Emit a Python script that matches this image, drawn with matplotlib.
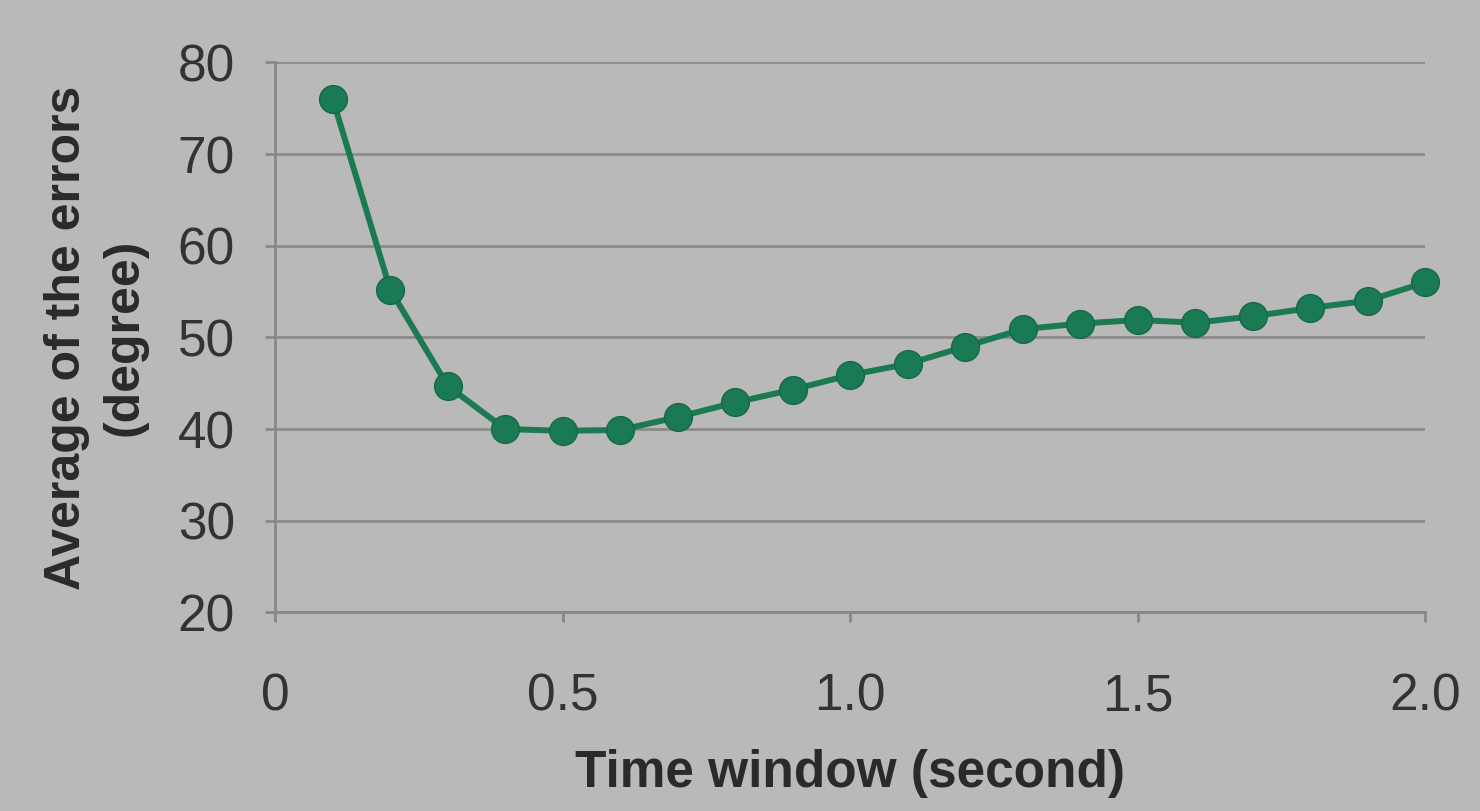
import matplotlib
matplotlib.use("Agg")
import matplotlib.pyplot as plt

time_window = [0.1, 0.2, 0.3, 0.4, 0.5, 0.6, 0.7, 0.8, 0.9, 1.0,
               1.1, 1.2, 1.3, 1.4, 1.5, 1.6, 1.7, 1.8, 1.9, 2.0]
avg_error = [76.0, 55.2, 44.7, 40.0, 39.8, 39.9, 41.3, 42.9, 44.3, 45.9,
             47.1, 49.0, 50.9, 51.5, 51.9, 51.6, 52.3, 53.2, 54.0, 56.0]
x_ticks = [0, 0.5, 1.0, 1.5, 2.0]
x_tick_labels = ["0", "0.5", "1.0", "1.5", "2.0"]
y_ticks = [20, 30, 40, 50, 60, 70, 80]

plt.rcParams['font.family'] = ['Liberation Sans', 'DejaVu Sans']

bg = "#b9b9b9"
fig = plt.figure(figsize=(14.8, 8.11), dpi=100, facecolor=bg)
ax = fig.add_axes([0.186, 0.245, 0.777, 0.678], facecolor=bg)

ax.plot(time_window, avg_error, color="#1b7a52", lw=4.3, marker="o",
        markersize=20, markerfacecolor="#1a7a53", markeredgecolor="#15684a",
        markeredgewidth=1.0, zorder=3, clip_on=False)

ax.set_xlim(0, 2.0)
ax.set_ylim(20, 80)
ax.set_xticks(x_ticks)
ax.set_xticklabels(x_tick_labels)
ax.set_yticks(y_ticks)

ax.grid(axis="y", color="#8a8a8a", lw=2.0)
ax.set_axisbelow(True)

for s in ["top", "right"]:
    ax.spines[s].set_visible(False)
for s in ["left", "bottom"]:
    ax.spines[s].set_color("#888888")
    ax.spines[s].set_linewidth(2.0)

ax.tick_params(axis="y", direction="out", length=7, width=2, color="#888888",
               labelsize=37, labelcolor="#333333", pad=22)
ax.tick_params(axis="x", direction="out", length=7, width=2, color="#888888",
               labelsize=37, labelcolor="#333333", pad=36)

ax.set_xlabel("Time window (second)", fontsize=37, fontweight="bold",
              color="#2a2a2a", labelpad=20)
ax.set_ylabel("Average of the errors\n(degree)", fontsize=36, fontweight="bold",
              color="#2a2a2a", labelpad=22, linespacing=1.3)

fig.savefig("out.png", dpi=100, facecolor=bg)
